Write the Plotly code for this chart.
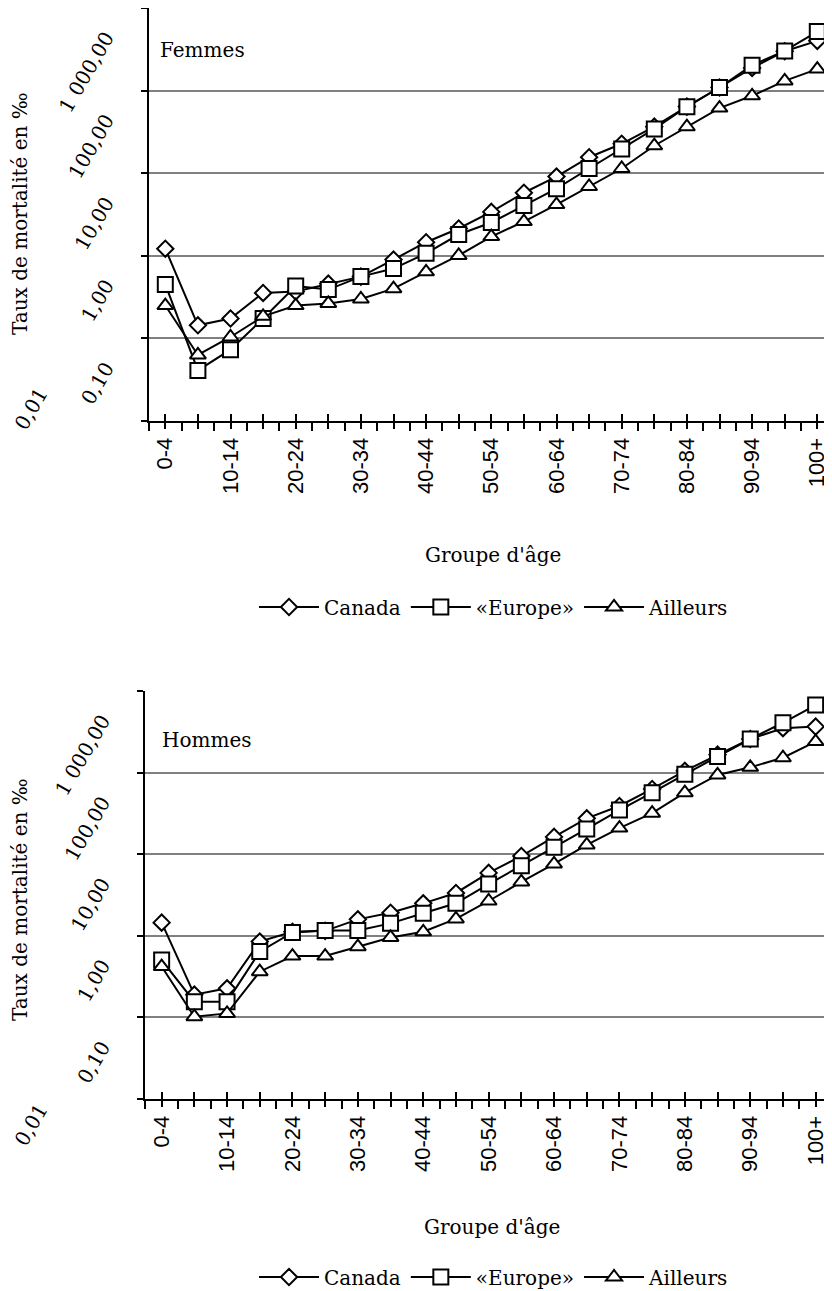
import plotly.graph_objects as go

age_groups = ["0-4", "5-9", "10-14", "15-19", "20-24", "25-29", "30-34", "35-39",
              "40-44", "45-49", "50-54", "55-59", "60-64", "65-69", "70-74", "75-79",
              "80-84", "85-89", "90-94", "95-99", "100+"]
series_names = ["Canada", "\u00abEurope\u00bb", "Ailleurs"]

# Femmes (taux de mortalité en ‰)
f_canada = [1.22, 0.144, 0.174, 0.355, 0.37, 0.46, 0.56, 0.90, 1.46, 2.14, 3.4, 5.8, 9.1,
            15.6, 22.7, 36.6, 64, 109, 188, 300, 400]
f_europe = [0.45, 0.041, 0.073, 0.174, 0.43, 0.39, 0.56, 0.70, 1.07, 1.81, 2.53, 4.06, 6.5,
            11.4, 19.6, 34.3, 63.7, 109, 203, 302, 518]
f_ailleurs = [0.25, 0.063, 0.104, 0.185, 0.25, 0.265, 0.30, 0.40, 0.64, 1.01, 1.71, 2.6, 4.17,
              6.9, 11.4, 21.5, 36.5, 61.5, 86.5, 131, 182]

# Hommes
h_canada = [1.45, 0.19, 0.227, 0.85, 1.12, 1.15, 1.59, 1.92, 2.5, 3.35, 5.9, 9.5, 16.3,
            27.5, 39, 63, 105, 166, 258, 350, 366]
h_europe = [0.505, 0.156, 0.156, 0.64, 1.10, 1.16, 1.16, 1.42, 1.89, 2.5, 4.3, 7.2, 12.2,
            20.4, 34.8, 56.7, 95.3, 157, 258, 408, 673]
h_ailleurs = [0.42, 0.102, 0.112, 0.363, 0.565, 0.565, 0.735, 0.955, 1.12, 1.61, 2.67, 4.57, 7.6,
              13.0, 20.9, 31.8, 56.7, 93.5, 116, 152, 240]

y_tick_vals = [0.01, 0.1, 1, 10, 100, 1000]
y_tick_text = ["", "0,10", "1,00", "10,00", "100,00", "1 000,00"]
x_tick_text = [g if i % 2 == 0 else "" for i, g in enumerate(age_groups)]

# The page body has an 8px margin; the figure is sized so it ends at the window edge.
OFF = 8
WIN_W, WIN_H = 832, 1291
W, H = WIN_W - OFF, WIN_H - OFF


def fx(px):
    return min(1.0, max(0.0, (px - OFF) / W))


def fy(py):
    return min(1.0, max(0.0, 1 - (py - OFF) / H))


SERIF = "DejaVu Serif"
SANS = "Liberation Sans, Arial"

symbols = ["diamond", "square", "triangle-up"]
sizes = [12.5, 15, 14]

fig = go.Figure()
xs = list(range(len(age_groups)))

panels = [
    ((f_canada, f_europe, f_ailleurs), "x", "y", "legend"),
    ((h_canada, h_europe, h_ailleurs), "x2", "y2", "legend2"),
]
for data, xa, ya, lg in panels:
    for name, vals, sym, sz in zip(series_names, data, symbols, sizes):
        fig.add_trace(go.Scatter(
            x=xs, y=vals, name=name, mode="lines+markers",
            xaxis=xa, yaxis=ya, legend=lg,
            line=dict(color="black", width=2),
            marker=dict(symbol=sym, size=sz, color="white",
                        line=dict(color="black", width=2)),
        ))

# invisible helper traces so the overlay tick axes are drawn
fig.add_trace(go.Scatter(x=[0], y=[1], xaxis="x3", yaxis="y", mode="markers",
                         marker=dict(opacity=0), showlegend=False, hoverinfo="skip"))
fig.add_trace(go.Scatter(x=[0], y=[1], xaxis="x4", yaxis="y2", mode="markers",
                         marker=dict(opacity=0), showlegend=False, hoverinfo="skip"))

top_left, top_px = 149.0, 32.6
bot_left, bot_px = 145.3, 32.7
top_range = [-0.5, -0.5 + (WIN_W - top_left) / top_px]
bot_range = [-0.5, -0.5 + (WIN_W - bot_left) / bot_px]
top_ydom = [fy(421), fy(7)]
bot_ydom = [fy(1099), fy(691)]
minor_vals = [i - 0.5 for i in range(len(age_groups) + 1)]


def xaxis_main(left, rng, anchor):
    return dict(domain=[fx(left), 1], range=rng, anchor=anchor,
                tickmode="array", tickvals=xs, ticktext=x_tick_text,
                ticks="outside", ticklen=6, tickwidth=1.5, tickcolor="black",
                showline=True, linecolor="black", linewidth=2,
                showgrid=False, zeroline=False, tickangle=-90,
                tickfont=dict(family=SANS, size=22, color="black"),
                minor=dict(tickmode="array", tickvals=minor_vals, ticks="outside",
                           ticklen=8, tickwidth=1.5, tickcolor="black", showgrid=False),
                fixedrange=True)


def xaxis_over(left, rng, anchor, over):
    return dict(domain=[fx(left), 1], range=rng, anchor=anchor, overlaying=over,
                tickmode="array", tickvals=xs, ticks="inside", ticklen=7,
                tickwidth=1.5, tickcolor="black", showticklabels=False,
                showline=False, showgrid=False, zeroline=False)


def yaxis_main(dom, anchor):
    return dict(type="log", domain=dom, range=[-2, 3], anchor=anchor,
                tickmode="array", tickvals=y_tick_vals, ticktext=y_tick_text,
                ticks="outside", ticklen=6, tickwidth=1.5, tickcolor="black",
                showline=True, linecolor="black", linewidth=2,
                showgrid=True, gridcolor="#808080", gridwidth=1.5, zeroline=False,
                tickangle=-60, ticklabelshift=27, ticklabelstandoff=31,
                tickfont=dict(family=SERIF, size=20, color="black"))


legend_common = dict(orientation="h", xanchor="center", yanchor="middle",
                     font=dict(family=SERIF, size=20, color="black"),
                     itemwidth=60, bgcolor="rgba(0,0,0,0)")

fig.update_layout(
    width=W, height=H, margin=dict(l=0, r=0, t=0, b=0, autoexpand=False),
    paper_bgcolor="white", plot_bgcolor="white",
    xaxis=xaxis_main(top_left, top_range, "y"),
    xaxis2=xaxis_main(bot_left, bot_range, "y2"),
    xaxis3=xaxis_over(top_left, top_range, "y", "x"),
    xaxis4=xaxis_over(bot_left, bot_range, "y2", "x2"),
    yaxis=yaxis_main(top_ydom, "x"),
    yaxis2=yaxis_main(bot_ydom, "x2"),
    legend=dict(legend_common, x=fx(494), y=fy(607)),
    legend2=dict(legend_common, x=fx(494), y=fy(1277)),
    showlegend=True,
)

ann_font = dict(family=SERIF, size=20, color="black")
annotations = [
    dict(text="Groupe d'âge", x=fx(493), y=fy(555), xanchor="center", yanchor="middle"),
    dict(text="Groupe d'âge", x=fx(492), y=fy(1227), xanchor="center", yanchor="middle"),
    dict(text="Femmes", x=fx(158), y=fy(50), xanchor="left", yanchor="middle"),
    dict(text="Hommes", x=fx(160), y=fy(740), xanchor="left", yanchor="middle"),
    dict(text="Taux de mortalité en ‰", x=fx(20), y=fy(214), textangle=-90,
         xanchor="center", yanchor="middle"),
    dict(text="Taux de mortalité en ‰", x=fx(20), y=fy(900), textangle=-90,
         xanchor="center", yanchor="middle"),
    dict(text="0,01", x=fx(31), y=fy(409), textangle=-60, xanchor="center", yanchor="middle"),
    dict(text="0,01", x=fx(31), y=fy(1125), textangle=-60, xanchor="center", yanchor="middle"),
]
for a in annotations:
    a.update(xref="paper", yref="paper", showarrow=False, font=ann_font)
fig.update_layout(annotations=annotations)

fig.write_html("out.html")
